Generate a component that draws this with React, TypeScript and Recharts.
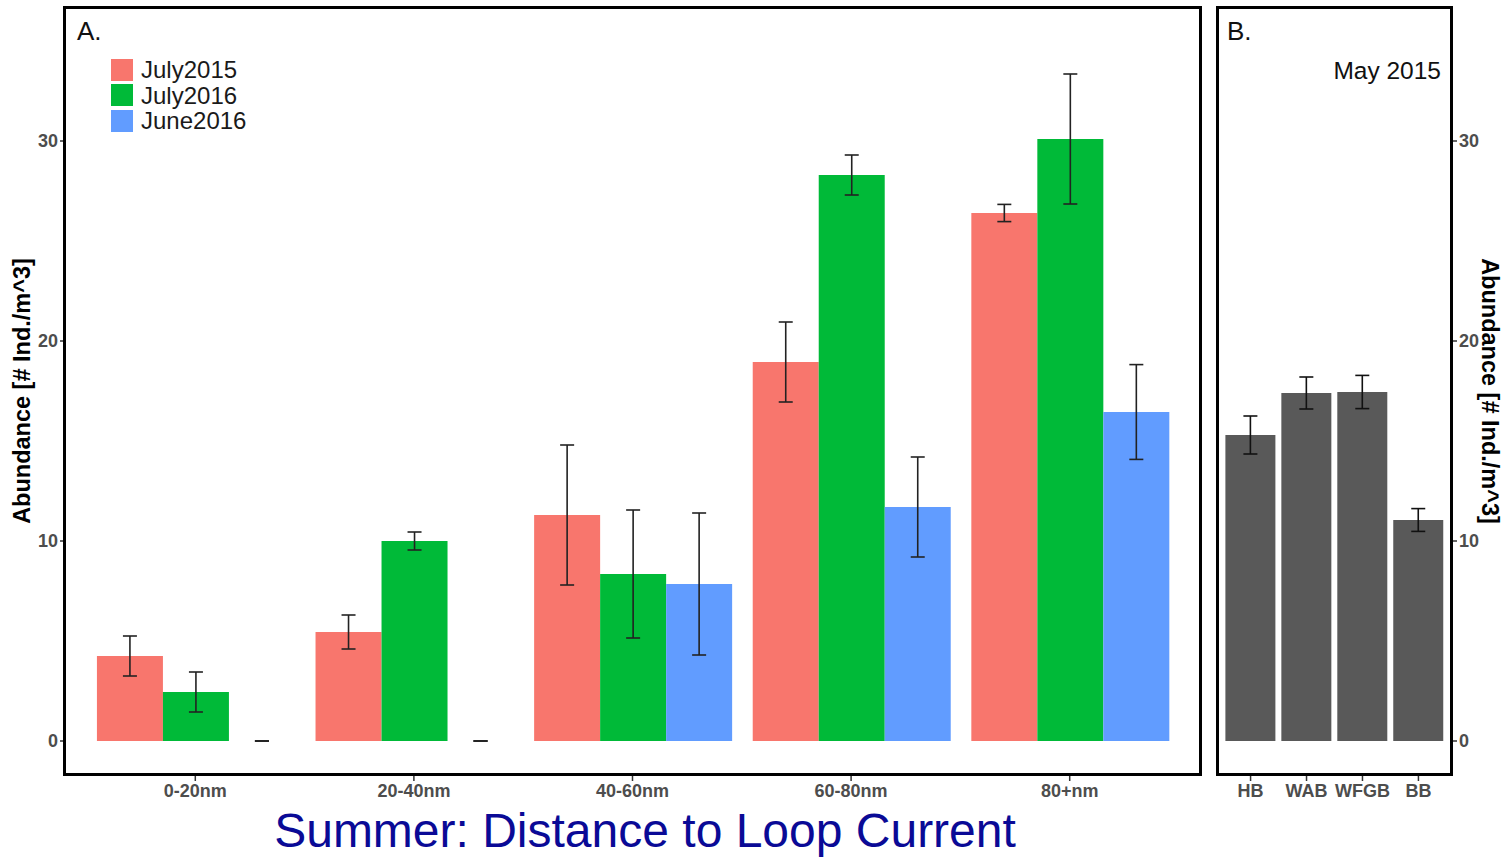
import React from 'react'
import { BarChart, Bar, XAxis, YAxis, ErrorBar, Rectangle } from 'recharts'

const distances = ['0-20nm', '20-40nm', '40-60nm', '60-80nm', '80+nm']
const july2015 = [4.25, 5.45, 11.3, 18.95, 26.4]
const july2015Se = [1.0, 0.85, 3.5, 2.0, 0.43]
const july2016 = [2.45, 10.0, 8.35, 28.3, 30.1]
const july2016Se = [1.0, 0.45, 3.2, 1.0, 3.25]
const june2016 = [0, 0, 7.85, 11.7, 16.45]
const june2016Se = [0, 0, 3.55, 2.5, 2.37]

const sites = ['HB', 'WAB', 'WFGB', 'BB']
const may2015 = [15.3, 17.4, 17.45, 11.05]
const may2015Se = [0.95, 0.8, 0.83, 0.57]

const yTicks = [0, 10, 20, 30]
const yDomain: [number, number] = [-1.7, 36.65]

const seriesA = [
  { key: 'july2015', name: 'July2015', color: '#F8766D' },
  { key: 'july2016', name: 'July2016', color: '#00BA38' },
  { key: 'june2016', name: 'June2016', color: '#619CFF' },
]

const dataA = distances.map((d, i) => ({
  distance: d,
  july2015: july2015[i],
  july2015Se: july2015Se[i],
  july2016: july2016[i],
  july2016Se: july2016Se[i],
  june2016: june2016[i],
  june2016Se: june2016Se[i],
}))

const dataB = sites.map((s, i) => ({ site: s, may2015: may2015[i], may2015Se: may2015Se[i] }))

const font = "'Liberation Sans', Arial, sans-serif"
const tickStyle = { fontSize: 18, fontWeight: 700, fill: '#4d4d4d', fontFamily: font }
const errColor = '#222'

// symmetric +/- se as [low, high]
const seRange = (key: string) => (d: any) => [d[key], d[key]]

// a zero bar only shows its collapsed error bar, like ggplot does
function BarShape(props: any) {
  const { x, y, width, height, fill } = props
  if (!height) {
    const cx = x + width / 2
    return <line x1={cx - 7} x2={cx + 7} y1={y} y2={y} stroke={errColor} strokeWidth={2} strokeOpacity={0.75} />
  }
  return <Rectangle x={x} y={y} width={width} height={height} fill={fill} />
}

function LegendBox() {
  return (
    <div style={{ position: 'absolute', left: 111, top: 57, fontFamily: font }}>
      {seriesA.map((s) => (
        <div key={s.key} style={{ display: 'flex', alignItems: 'center', height: 25.5 }}>
          <div style={{ width: 22, height: 22, background: s.color, marginRight: 8 }} />
          <span style={{ fontSize: 24, color: '#1a1a1a', lineHeight: '25px' }}>{s.name}</span>
        </div>
      ))}
    </div>
  )
}

export default function App() {
  return (
    <div style={{ position: 'absolute', left: 0, top: 0, width: 1501, height: 858, background: '#fff', fontFamily: font }}>
      <div style={{ position: 'absolute', left: 0, top: 0 }}>
        <BarChart
          width={1210}
          height={858}
          data={dataA}
          margin={{ top: 8, right: 10, bottom: 43, left: 8 }}
          barCategoryGap="5%"
          barGap={0}
        >
          <XAxis
            dataKey="distance"
            axisLine={false}
            tickLine={{ stroke: '#333', strokeWidth: 1.5 }}
            tickSize={6}
            tickMargin={3}
            height={40}
            padding={{ left: 21, right: 21 }}
            tick={tickStyle}
          />
          <YAxis
            type="number"
            domain={yDomain}
            ticks={yTicks}
            allowDataOverflow
            axisLine={false}
            tickLine={{ stroke: '#333', strokeWidth: 1.5 }}
            tickSize={5}
            tickMargin={2}
            width={57}
            tick={tickStyle}
          />
          {seriesA.map((s) => (
            <Bar key={s.key} dataKey={s.key} name={s.name} fill={s.color} shape={BarShape} isAnimationActive={false}>
              <ErrorBar dataKey={seRange(s.key + 'Se')} width={7} stroke={errColor} strokeWidth={1.6} direction="y" />
            </Bar>
          ))}
        </BarChart>
      </div>
      <LegendBox />

      <div style={{ position: 'absolute', left: 1210, top: 0 }}>
        <BarChart
          width={291}
          height={858}
          data={dataB}
          margin={{ top: 8, right: 0, bottom: 43, left: 7 }}
          barCategoryGap="5%"
          barGap={0}
        >
          <XAxis
            dataKey="site"
            axisLine={false}
            tickLine={{ stroke: '#333', strokeWidth: 1.5 }}
            tickSize={6}
            tickMargin={3}
            height={40}
            padding={{ left: 5.6, right: 5.6 }}
            tick={tickStyle}
            interval={0}
          />
          <YAxis
            orientation="right"
            type="number"
            domain={yDomain}
            ticks={yTicks}
            allowDataOverflow
            axisLine={false}
            tickLine={{ stroke: '#333', strokeWidth: 1.5 }}
            tickSize={5}
            tickMargin={2}
            width={49}
            tick={tickStyle}
          />
          <Bar dataKey="may2015" name="May 2015" fill="#595959" isAnimationActive={false}>
            <ErrorBar dataKey={seRange('may2015Se')} width={7} stroke="#111" strokeWidth={1.6} direction="y" />
          </Bar>
        </BarChart>
      </div>

      {/* panel frames */}
      <div style={{ position: 'absolute', left: 63, top: 6, width: 1139, height: 770, border: '3px solid #000', boxSizing: 'border-box', pointerEvents: 'none' }} />
      <div style={{ position: 'absolute', left: 1216, top: 6, width: 237, height: 770, border: '3px solid #000', boxSizing: 'border-box', pointerEvents: 'none' }} />

      <div style={{ position: 'absolute', left: 77, top: 16, fontSize: 26, color: '#111' }}>A.</div>
      <div style={{ position: 'absolute', left: 1227, top: 16, fontSize: 26, color: '#111' }}>B.</div>
      <div style={{ position: 'absolute', right: 1501 - 1441, top: 57, fontSize: 24.5, color: '#111', whiteSpace: 'nowrap' }}>May 2015</div>

      <div style={{ position: 'absolute', left: 22, top: 391, transform: 'translate(-50%, -50%) rotate(-90deg)', fontSize: 23.5, fontWeight: 700, whiteSpace: 'nowrap', color: '#000' }}>
        Abundance [# Ind./m^3]
      </div>
      <div style={{ position: 'absolute', left: 1489, top: 391, transform: 'translate(-50%, -50%) rotate(90deg)', fontSize: 23.5, fontWeight: 700, whiteSpace: 'nowrap', color: '#000' }}>
        Abundance [# Ind./m^3]
      </div>

      <div style={{ position: 'absolute', left: 0, width: 1290, top: 805, textAlign: 'center', fontSize: 48, lineHeight: '52px', color: '#0a0a96', whiteSpace: 'nowrap' }}>
        Summer: Distance to Loop Current
      </div>
    </div>
  )
}
